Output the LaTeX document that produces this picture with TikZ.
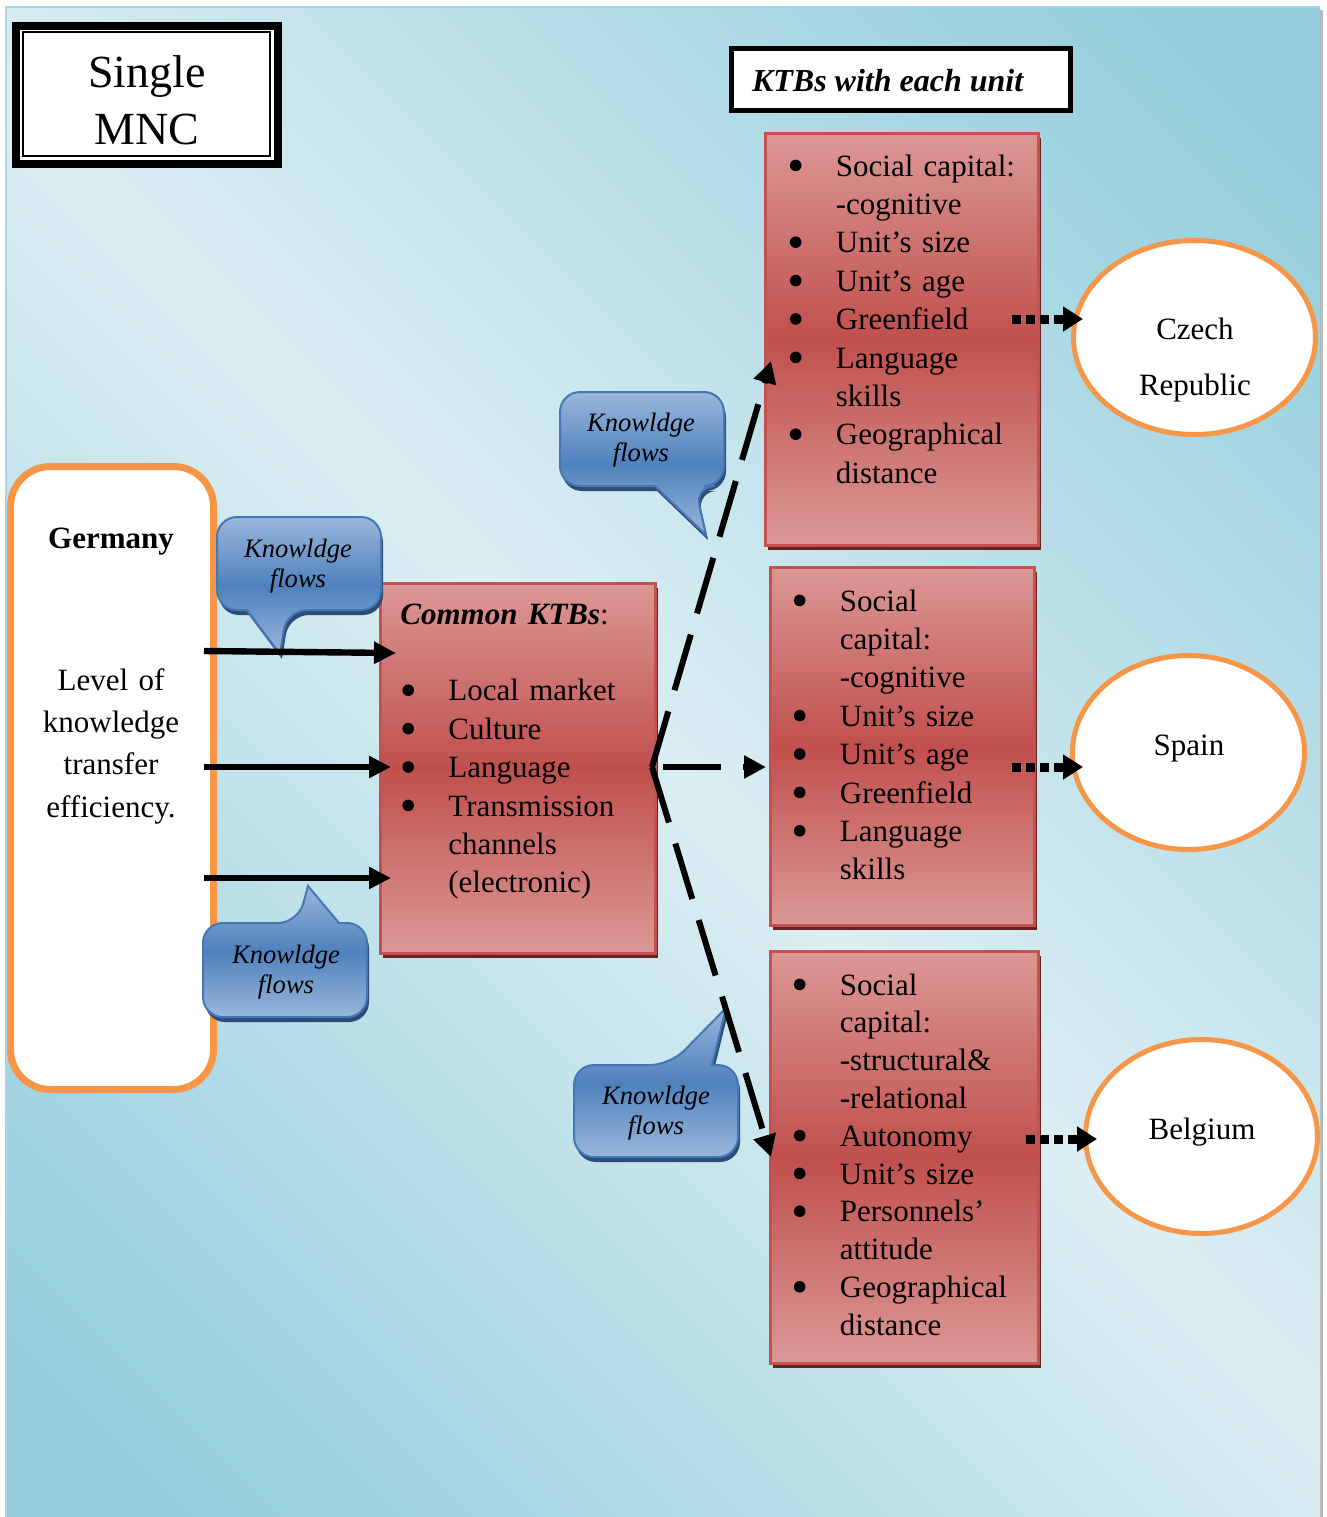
\documentclass[tikz,border=0pt]{standalone}
\usepackage{fontspec}
\setmainfont{Liberation Serif}
\usetikzlibrary{arrows.meta,shapes.geometric,shadows}
\definecolor{bgdark}{HTML}{92CDDC}
\definecolor{bglight}{HTML}{DBEEF3}
\definecolor{bgline}{HTML}{A8D6E3}
\definecolor{redmid}{HTML}{C0504D}
\definecolor{redlight}{HTML}{DB9896}
\definecolor{redborder}{HTML}{C4514E}
\definecolor{redshadow}{HTML}{642422}
\definecolor{bluemid}{HTML}{4F81BD}
\definecolor{bluelight}{HTML}{9AB7DB}
\definecolor{blueborder}{HTML}{4576B5}
\definecolor{blueshadow}{HTML}{2C4D75}
\definecolor{orng}{HTML}{F79646}
\pgfdeclareverticalshading{bgshade}{100bp}{color(0bp)=(bgdark); color(18bp)=(bgdark); color(50bp)=(bglight); color(82bp)=(bgdark); color(100bp)=(bgdark)}
\newcommand\bul{\makebox[23pt][l]{\tikz[baseline=0pt]\fill[black] (3pt,5.3pt) circle (2.9pt);}}
\newcommand\ind{\hspace*{23pt}}
\begin{document}
\begin{tikzpicture}[x=0.5pt,y=-0.5pt,
  font=\fontsize{15.5pt}{19.2pt}\selectfont,
  redbox/.style={top color=redlight, bottom color=redlight, middle color=redmid,
    draw=redborder, line width=1.5pt, inner sep=0pt, outer sep=0pt, anchor=north west,
    drop shadow={shadow xshift=1.5pt, shadow yshift=-2.5pt, fill=redshadow, opacity=1}},
  listtxt/.style={anchor=base west, text width=132pt, align=left, inner sep=0pt},
  country/.style={ellipse, draw=orng, line width=2.5pt, fill=white, inner sep=0pt, outer sep=0pt},
  cntlbl/.style={anchor=base, text width=110pt, align=center, inner sep=0pt,
    font=\fontsize{15.5pt}{28pt}\selectfont},
  bubble/.style={top color=bluelight, bottom color=bluelight, middle color=bluemid,
    draw=blueborder, line width=1pt,
    drop shadow={shadow xshift=1pt, shadow yshift=-2.5pt, fill=blueshadow, opacity=1}},
  bubtxt/.style={anchor=base, text width=80pt, align=center, inner sep=0pt,
    font=\fontsize{13.3pt}{15pt}\selectfont\itshape},
  solidarrow/.style={line width=3.2pt, -{Triangle[length=11pt,width=10.5pt]}},
  dasharrow/.style={line width=3pt, dash pattern=on 29pt off 11pt, -{Triangle[length=11pt,width=11pt]}},
  dotarrow/.style={line width=4.5pt, dash pattern=on 4.5pt off 2.5pt, -{Triangle[length=10pt,width=12pt]}}
]
\useasboundingbox (0,0) rectangle (1327,1517);
% background
\fill[gray!55] (1320,10) rectangle (1323,1517);
\shade[shading=bgshade, shading angle=-45] (6,7) rectangle (1320,1517);
\draw[bgline, line width=0.8pt] (6,1517) -- (6,7) -- (1320,7);

% Single MNC
\node[fill=white, draw=black, line width=4pt, minimum width=131pt, minimum height=69pt,
  inner sep=0pt, outer sep=0pt, anchor=north west] (mncframe) at (16,26) {};
\node[draw=black, line width=1pt, minimum width=123.5pt, minimum height=62pt,
  inner sep=0pt, outer sep=0pt, anchor=north west] (mncinner) at (23,32) {};
\node[anchor=base, text width=120pt, align=center, inner sep=0pt,
  font=\fontsize{23pt}{28.5pt}\selectfont] (mnc) at (147,87) {Single\\MNC};

% header
\node[fill=white, draw=black, line width=2.5pt, minimum width=169.5pt, minimum height=31pt,
  inner sep=0pt, outer sep=0pt, anchor=north west] (ktbhead) at (731.5,48.5) {};
\node[anchor=base, inner sep=0pt, font=\fontsize{16pt}{19pt}\selectfont] (ktbtxt) at (888,91)
  {\textbf{\textit{KTBs with each unit}}};

% Germany
\node[draw=orng, line width=3.5pt, rounded corners=20pt, fill=white, inner sep=0pt, outer sep=0pt,
  minimum width=101.5pt, minimum height=311.5pt, anchor=north west] (germany) at (10.5,466.5) {};
\node[anchor=base, inner sep=0pt] (germanyttl) at (111,548) {\textbf{Germany}};
\node[anchor=base, text width=100pt, align=center, inner sep=0pt,
  font=\fontsize{15.5pt}{21.2pt}\selectfont] (germanytxt) at (111,690)
  {Level of\\knowledge\\transfer\\efficiency.};

% red boxes
\node[redbox, minimum width=136.5pt, minimum height=206pt] (czechbox) at (765,133) {};
\node[redbox, minimum width=132pt, minimum height=179pt] (spainbox) at (770,567) {};
\node[redbox, minimum width=134pt, minimum height=206pt] (belgbox) at (770,951) {};
\node[redbox, minimum width=137.5pt, minimum height=185pt] (commonbox) at (380,583) {};

\node[listtxt] (czechtxt) at (789.5,176) {\bul Social capital:\\ \ind -cognitive\\ \bul Unit’s size\\
  \bul Unit’s age\\ \bul Greenfield\\ \bul Language\\ \ind skills\\ \bul Geographical\\ \ind distance};
\node[listtxt] (spaintxt) at (793.5,611) {\bul Social\\ \ind capital:\\ \ind -cognitive\\ \bul Unit’s size\\
  \bul Unit’s age\\ \bul Greenfield\\ \bul Language\\ \ind skills};
\node[listtxt, font=\fontsize{15.5pt}{18.9pt}\selectfont] (belgtxt) at (793.5,995) {\bul Social\\ \ind capital:\\ \ind -structural\&\\ \ind -relational\\
  \bul Autonomy\\ \bul Unit’s size\\ \bul Personnels’\\ \ind attitude\\ \bul Geographical\\ \ind distance};
\node[listtxt] (commontxt) at (400,624) {\textbf{\textit{Common KTBs}}:\\[19.2pt]
  \hspace*{1pt}\bul Local market\\ \hspace*{1pt}\bul Culture\\ \hspace*{1pt}\bul Language\\
  \hspace*{1pt}\bul Transmission\\ \hspace*{24pt}channels\\ \hspace*{24pt}(electronic)};

% countries
\node[country, minimum width=121pt, minimum height=97pt] (czech) at (1194.5,337.5) {};
\node[country, minimum width=116pt, minimum height=97pt] (spain) at (1188.5,752.5) {};
\node[country, minimum width=116pt, minimum height=97pt] (belgium) at (1201.5,1136.5) {};
\node[cntlbl] (czechlbl) at (1195,339) {Czech\\Republic};
\node[cntlbl] (spainlbl) at (1189,755) {Spain};
\node[cntlbl] (belglbl) at (1202,1139) {Belgium};

% speech bubbles
\path[bubble] (560,440) [rounded corners=10pt] -- (560,392) -- (724,392) -- (724,486) -- (695,486)
  [sharp corners] -- (706,535) -- (655,486) [rounded corners=10pt] -- (560,486) -- cycle;
\path[bubble] (217,560) [rounded corners=10pt] -- (217,517) -- (381,517) -- (381,610) -- (287,610)
  [sharp corners] -- (280,654) -- (247,610) [rounded corners=10pt] -- (217,610) -- cycle;
\path[bubble] (203,970) [rounded corners=10pt] -- (203,923) -- (298,923)
  [sharp corners] -- (308,886) -- (339,923) [rounded corners=10pt] -- (367,923) -- (367,1017) -- (203,1017) -- cycle;
\path[bubble] (574,1110) [rounded corners=10pt] -- (574,1065) -- (670,1065)
  [sharp corners] -- (726,1008) -- (712,1065) [rounded corners=10pt] -- (738,1065) -- (738,1157) -- (574,1157) -- cycle;
\node[bubtxt] (bub1) at (641,431) {Knowldge\\flows};
\node[bubtxt] (bub2) at (298,557) {Knowldge\\flows};
\node[bubtxt] (bub3) at (286,963) {Knowldge\\flows};
\node[bubtxt] (bub4) at (656,1104) {Knowldge\\flows};

% connectors
\coordinate (g1) at (204,651); \coordinate (k1) at (396,653);
\coordinate (g2) at (204,767); \coordinate (k2) at (391,767);
\coordinate (g3) at (204,878); \coordinate (k3) at (391,878);
\draw[solidarrow] (g1) -- (k1);
\draw[solidarrow] (g2) -- (k2);
\draw[solidarrow] (g3) -- (k3);

\coordinate (branch) at (652,767);
\coordinate (spainstart) at (663,767);
\coordinate (toczech) at (771,361);
\coordinate (tospain) at (766,767);
\coordinate (tobelg) at (771,1157);
\draw[dasharrow] (branch) -- (toczech);
\draw[dasharrow] (spainstart) -- (tospain);
\draw[dasharrow] (branch) -- (tobelg);

\coordinate (c1) at (1012,319); \coordinate (c1e) at (1083,319);
\coordinate (s1) at (1012,767); \coordinate (s1e) at (1083,767);
\coordinate (b1) at (1026,1139); \coordinate (b1e) at (1097,1139);
\draw[dotarrow] (c1) -- (c1e);
\draw[dotarrow] (s1) -- (s1e);
\draw[dotarrow] (b1) -- (b1e);
\end{tikzpicture}
\end{document}
